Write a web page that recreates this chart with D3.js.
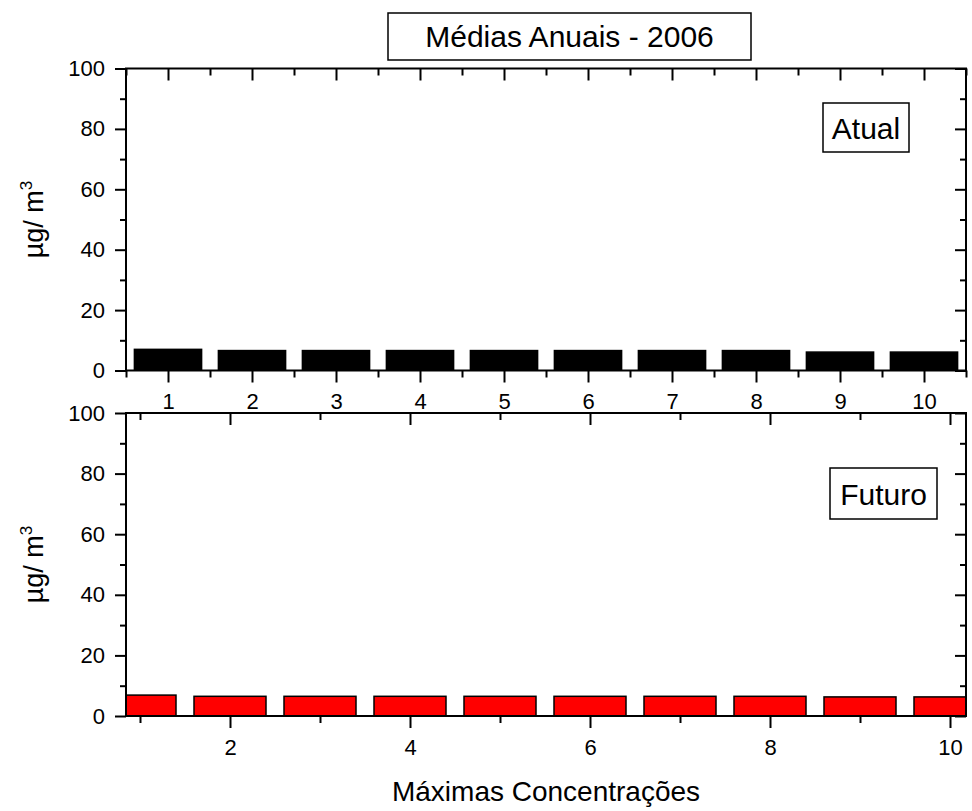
<!DOCTYPE html>
<html>
<head>
<meta charset="utf-8">
<script src="https://d3js.org/d3.v7.min.js"></script>
<style>
body {
  margin: 0;
  background: #ffffff;
  font-family: "Liberation Sans", Arial, Helvetica, sans-serif;
}
</style>
</head>
<body>
<div id="chart"></div>
<script>
// data
var ranks = [1, 2, 3, 4, 5, 6, 7, 8, 9, 10];
var atual = [7.0, 6.6, 6.6, 6.6, 6.6, 6.6, 6.6, 6.6, 6.1, 6.1];
var futuro = [6.9, 6.5, 6.5, 6.5, 6.5, 6.5, 6.5, 6.5, 6.3, 6.3];
var yTicks = [0, 20, 40, 60, 80, 100];
var yMinor = [10, 30, 50, 70, 90];
var topXTicks = [1, 2, 3, 4, 5, 6, 7, 8, 9, 10];
var topXMinor = [0.5, 1.5, 2.5, 3.5, 4.5, 5.5, 6.5, 7.5, 8.5, 9.5, 10.5];
var botXTicks = [2, 4, 6, 8, 10];
var botXMinor = [1, 3, 5, 7, 9];

var W = 972, H = 811;
var left = 126, right = 966;

var svg = d3.select("#chart").append("svg")
  .attr("width", W)
  .attr("height", H);

// panel builder
function panel(opts) {
  var x = d3.scaleLinear().domain(opts.xDomain).range([left, right]);
  var y = d3.scaleLinear().domain([0, 100]).range([opts.y0, opts.y1]);
  var g = svg.append("g");

  var clipId = "clip" + opts.id;
  svg.append("clipPath").attr("id", clipId)
    .append("rect")
    .attr("x", left).attr("y", opts.y1)
    .attr("width", right - left).attr("height", opts.y0 - opts.y1);

  g.append("g").attr("clip-path", "url(#" + clipId + ")")
    .selectAll("rect")
    .data(opts.values)
    .enter().append("rect")
      .attr("x", function(d, i) { return x(ranks[i] - 0.4); })
      .attr("width", function(d, i) { return x(ranks[i] + 0.4) - x(ranks[i] - 0.4); })
      .attr("y", function(d) { return y(d); })
      .attr("height", function(d) { return y(0) - y(d); })
      .attr("fill", opts.fill)
      .attr("stroke", "#000")
      .attr("stroke-width", 1.5);

  function styleAxis(sel) {
    sel.select(".domain").remove();
    sel.selectAll("line").attr("stroke", "#000").attr("stroke-width", 2);
    sel.selectAll("text")
      .attr("fill", "#000")
      .style("font-family", '"Liberation Sans", Arial, sans-serif')
      .style("font-size", "22px");
  }

  // left axis, outward ticks
  g.append("g").attr("transform", "translate(" + left + ",0)")
    .call(d3.axisLeft(y).tickValues(yTicks).tickSize(11).tickPadding(10).tickFormat(d3.format("d")))
    .call(styleAxis);
  g.append("g").attr("transform", "translate(" + left + ",0)")
    .call(d3.axisLeft(y).tickValues(yMinor).tickSize(6).tickFormat(""))
    .call(styleAxis);

  // right axis, inward ticks
  g.append("g").attr("transform", "translate(" + right + ",0)")
    .call(d3.axisLeft(y).tickValues(yTicks).tickSize(11).tickFormat(""))
    .call(styleAxis);
  g.append("g").attr("transform", "translate(" + right + ",0)")
    .call(d3.axisLeft(y).tickValues(yMinor).tickSize(6).tickFormat(""))
    .call(styleAxis);

  // bottom axis, outward ticks
  g.append("g").attr("transform", "translate(0," + opts.y0 + ")")
    .call(d3.axisBottom(x).tickValues(opts.xTicks).tickSize(12).tickPadding(11).tickFormat(d3.format("d")))
    .call(styleAxis);
  g.append("g").attr("transform", "translate(0," + opts.y0 + ")")
    .call(d3.axisBottom(x).tickValues(opts.xMinor).tickSize(7).tickFormat(""))
    .call(styleAxis);

  // top axis, inward ticks
  g.append("g").attr("transform", "translate(0," + opts.y1 + ")")
    .call(d3.axisBottom(x).tickValues(opts.xTicks).tickSize(12).tickFormat(""))
    .call(styleAxis);
  g.append("g").attr("transform", "translate(0," + opts.y1 + ")")
    .call(d3.axisBottom(x).tickValues(opts.xMinor).tickSize(7).tickFormat(""))
    .call(styleAxis);

  // frame
  g.append("rect")
    .attr("x", left).attr("y", opts.y1)
    .attr("width", right - left).attr("height", opts.y0 - opts.y1)
    .attr("fill", "none").attr("stroke", "#000").attr("stroke-width", 2);

  // y label
  var yl = g.append("text")
    .attr("transform", "translate(43," + ((opts.y0 + opts.y1) / 2) + ") rotate(-90)")
    .attr("text-anchor", "middle")
    .style("font-size", "27px")
    .attr("fill", "#000");
  yl.append("tspan").text("\u00b5g/ m");
  yl.append("tspan").attr("dy", -11).style("font-size", "17px").text("3");

  // label box
  var lb = g.append("g");
  lb.append("rect")
    .attr("x", opts.box[0]).attr("y", opts.box[1])
    .attr("width", opts.box[2]).attr("height", opts.box[3])
    .attr("fill", "#fff").attr("stroke", "#000").attr("stroke-width", 1.5);
  lb.append("text")
    .attr("x", opts.box[0] + opts.box[2] / 2)
    .attr("y", opts.box[1] + opts.box[3] / 2 + 11)
    .attr("text-anchor", "middle")
    .style("font-size", "30px")
    .attr("fill", "#000")
    .text(opts.label);
}

panel({
  id: "a", values: atual, fill: "#000000",
  xDomain: [0.5, 10.5], y0: 370.5, y1: 68.5,
  xTicks: topXTicks, xMinor: topXMinor,
  label: "Atual", box: [823, 103, 86, 49]
});

panel({
  id: "f", values: futuro, fill: "#ff0000",
  xDomain: [2 - 104 / 90, 10 + 16 / 90], y0: 716, y1: 413,
  xTicks: botXTicks, xMinor: botXMinor,
  label: "Futuro", box: [830, 468, 107, 51]
});

// title box
svg.append("rect")
  .attr("x", 388).attr("y", 13).attr("width", 363).attr("height", 47)
  .attr("fill", "#fff").attr("stroke", "#000").attr("stroke-width", 1.5);
svg.append("text")
  .attr("x", 569.5).attr("y", 47)
  .attr("text-anchor", "middle")
  .style("font-size", "30px")
  .text("M\u00e9dias Anuais - 2006");

// x title
svg.append("text")
  .attr("x", 546).attr("y", 801)
  .attr("text-anchor", "middle")
  .style("font-size", "28px")
  .text("M\u00e1ximas Concentra\u00e7\u00f5es");
</script>
</body>
</html>
